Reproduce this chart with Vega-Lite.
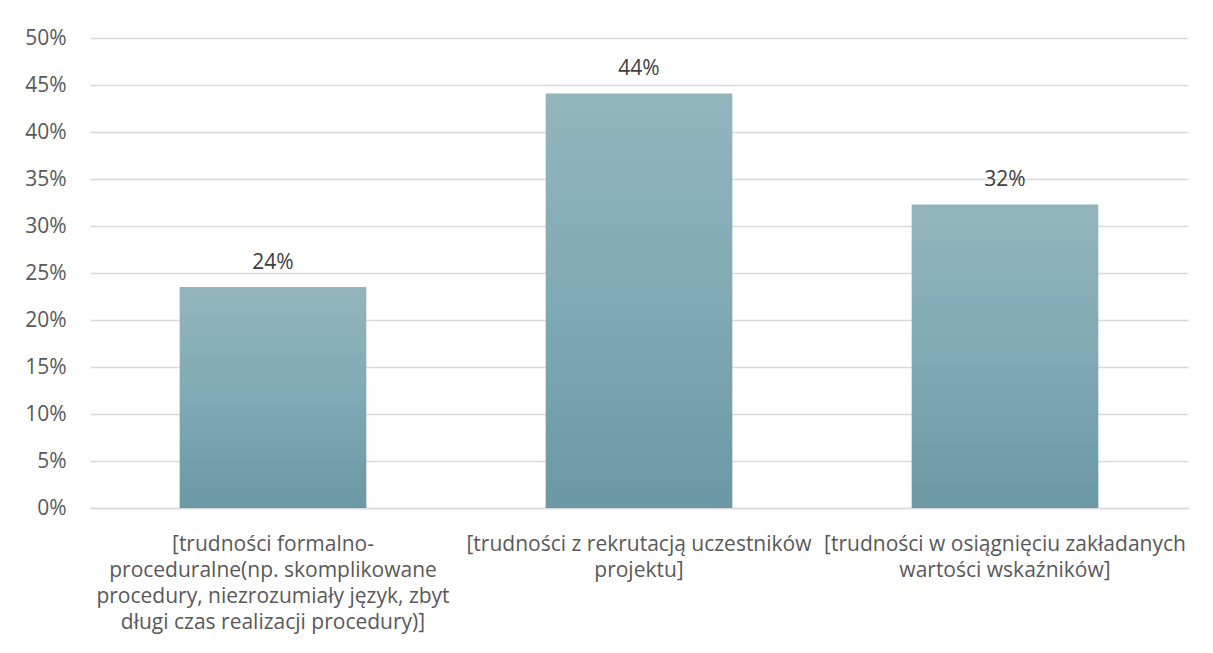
{
  "$schema": "https://vega.github.io/schema/vega-lite/v6.json",
  "width": 1098,
  "height": 470,
  "autosize": "none",
  "padding": {"left": 90, "top": 38, "right": 25, "bottom": 145},
  "background": "white",
  "config": {
    "view": {"stroke": null},
    "font": "Open Sans"
  },
  "data": {
    "values": [
      {"cat": "[trudności formalno-|proceduralne(np. skomplikowane|procedury, niezrozumiały język, zbyt|długi czas realizacji procedury)]", "value": 0.235, "label": "24%"},
      {"cat": "[trudności z rekrutacją uczestników|projektu]", "value": 0.441, "label": "44%"},
      {"cat": "[trudności w osiągnięciu zakładanych|wartości wskaźników]", "value": 0.323, "label": "32%"}
    ]
  },
  "encoding": {
    "x": {
      "field": "cat",
      "type": "nominal",
      "sort": null,
      "scale": {"paddingInner": 0.49, "paddingOuter": 0.245},
      "axis": {
        "title": null,
        "labelAngle": 0,
        "labelExpr": "split(datum.label, '|')",
        "labelFontSize": 21,
        "labelColor": "#595959",
        "labelLineHeight": 26,
        "labelPadding": 25,
        "ticks": false,
        "domainColor": "#d9d9d9",
        "domainWidth": 1.5,
        "labelLimit": 400
      }
    },
    "y": {
      "field": "value",
      "type": "quantitative",
      "scale": {"domain": [0, 0.5]},
      "axis": {
        "title": null,
        "format": ".0%",
        "values": [0, 0.05, 0.1, 0.15, 0.2, 0.25, 0.3, 0.35, 0.4, 0.45, 0.5],
        "labelFontSize": 21,
        "labelColor": "#595959",
        "labelPadding": 24,
        "ticks": false,
        "domain": false,
        "gridColor": "#d9d9d9",
        "gridWidth": 1.5
      }
    }
  },
  "layer": [
    {
      "mark": {
        "type": "bar",
        "color": {
          "gradient": "linear",
          "x1": 0, "y1": 0, "x2": 0, "y2": 1,
          "stops": [
            {"offset": 0, "color": "#93b5bd"},
            {"offset": 0.5, "color": "#80aab5"},
            {"offset": 1, "color": "#6b98a4"}
          ]
        }
      }
    },
    {
      "mark": {"type": "text", "dy": -24, "fontSize": 21, "color": "#404040"},
      "encoding": {"text": {"field": "label"}}
    }
  ]
}
